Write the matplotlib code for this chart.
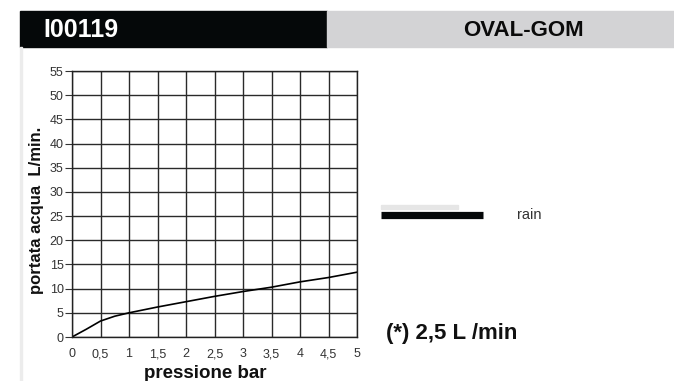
import matplotlib
matplotlib.use("Agg")
import matplotlib.pyplot as plt
from matplotlib.patches import Rectangle
from matplotlib.lines import Line2D

# Data
pressure = [0, 0.25, 0.5, 0.75, 1, 1.5, 2, 2.5, 3, 3.5, 4, 4.5, 5]
flow = [0, 1.6, 3.3, 4.3, 5.0, 6.2, 7.3, 8.4, 9.4, 10.3, 11.4, 12.3, 13.4]
x_ticks = [0, 0.5, 1, 1.5, 2, 2.5, 3, 3.5, 4, 4.5, 5]
x_tick_labels = ["0", "0,5", "1", "1,5", "2", "2,5", "3", "3,5", "4", "4,5", "5"]
y_ticks = [0, 5, 10, 15, 20, 25, 30, 35, 40, 45, 50, 55]
code_label = "I00119"
product_label = "OVAL-GOM"
series_name = "rain"
note = "(*) 2,5 L /min"

W, H = 674, 381
fig = plt.figure(figsize=(W / 100, H / 100), dpi=100)
plt.rcParams['font.family'] = ['Liberation Sans', 'DejaVu Sans']

# Header bands
fig.patches.append(Rectangle((20 / W, 1 - 47 / H), (327 - 20) / W, 36 / H,
                             transform=fig.transFigure, color='#050809', zorder=0))
fig.patches.append(Rectangle((327 / W, 1 - 47 / H), (674 - 327) / W, 36 / H,
                             transform=fig.transFigure, color='#d3d3d5', zorder=0))
# left thin border line
fig.patches.append(Rectangle((20 / W, 0), 2 / W, 1 - 47 / H,
                             transform=fig.transFigure, color='#ececec', zorder=0))

fig.text(43 / W, 1 - 30 / H, code_label, color='white', fontsize=18, fontweight='bold',
         va='center', ha='left')
fig.text(523 / W, 1 - 30 / H, product_label, color='#0a0a0a', fontsize=16, fontweight='bold',
         va='center', ha='center')

# Axes
ax = fig.add_axes([72 / W, 1 - 337 / H, (357 - 72) / W, (337 - 71) / H])
ax.set_xlim(0, 5)
ax.set_ylim(0, 55)
ax.set_xticks(x_ticks)
ax.set_xticklabels(x_tick_labels)
ax.set_yticks(y_ticks)
ax.grid(True, color='#2a2a2a', linewidth=1.0)
ax.set_axisbelow(True)
ax.tick_params(axis='y', length=5, width=0.8, color='#333', labelsize=9, labelcolor='#333', pad=1)
ax.tick_params(axis='x', length=0, labelsize=9, labelcolor='#333', pad=8)
for s in ax.spines.values():
    s.set_color('#222')
    s.set_linewidth(1.0)
ax.plot(pressure, flow, color='black', linewidth=1.2)

fig.text(205 / W, 1 - 373 / H, "pressione bar", fontsize=13.5, fontweight='bold',
         ha='center', va='center', color='#111')
fig.text(37 / W, 1 - 210 / H, "portata acqua  L/min.", fontsize=12, fontweight='bold',
         ha='center', va='center', rotation=90, color='#111')

# Legend
fig.patches.append(Rectangle((381 / W, 1 - 209 / H), (458 - 381) / W, 4 / H,
                             transform=fig.transFigure, color='#e6e6e6'))
fig.lines.append(Line2D([381 / W, 483 / W], [1 - 214.5 / H, 1 - 214.5 / H],
                        transform=fig.transFigure, color='#050809', linewidth=5.2,
                        solid_capstyle='butt'))
fig.text(517 / W, 1 - 215 / H, series_name, fontsize=10.5, color='#333', va='center', ha='left')

fig.text(386 / W, 1 - 334 / H, note, fontsize=16, fontweight='bold', color='#111',
         va='center', ha='left')

fig.savefig("out.png", dpi=100)
